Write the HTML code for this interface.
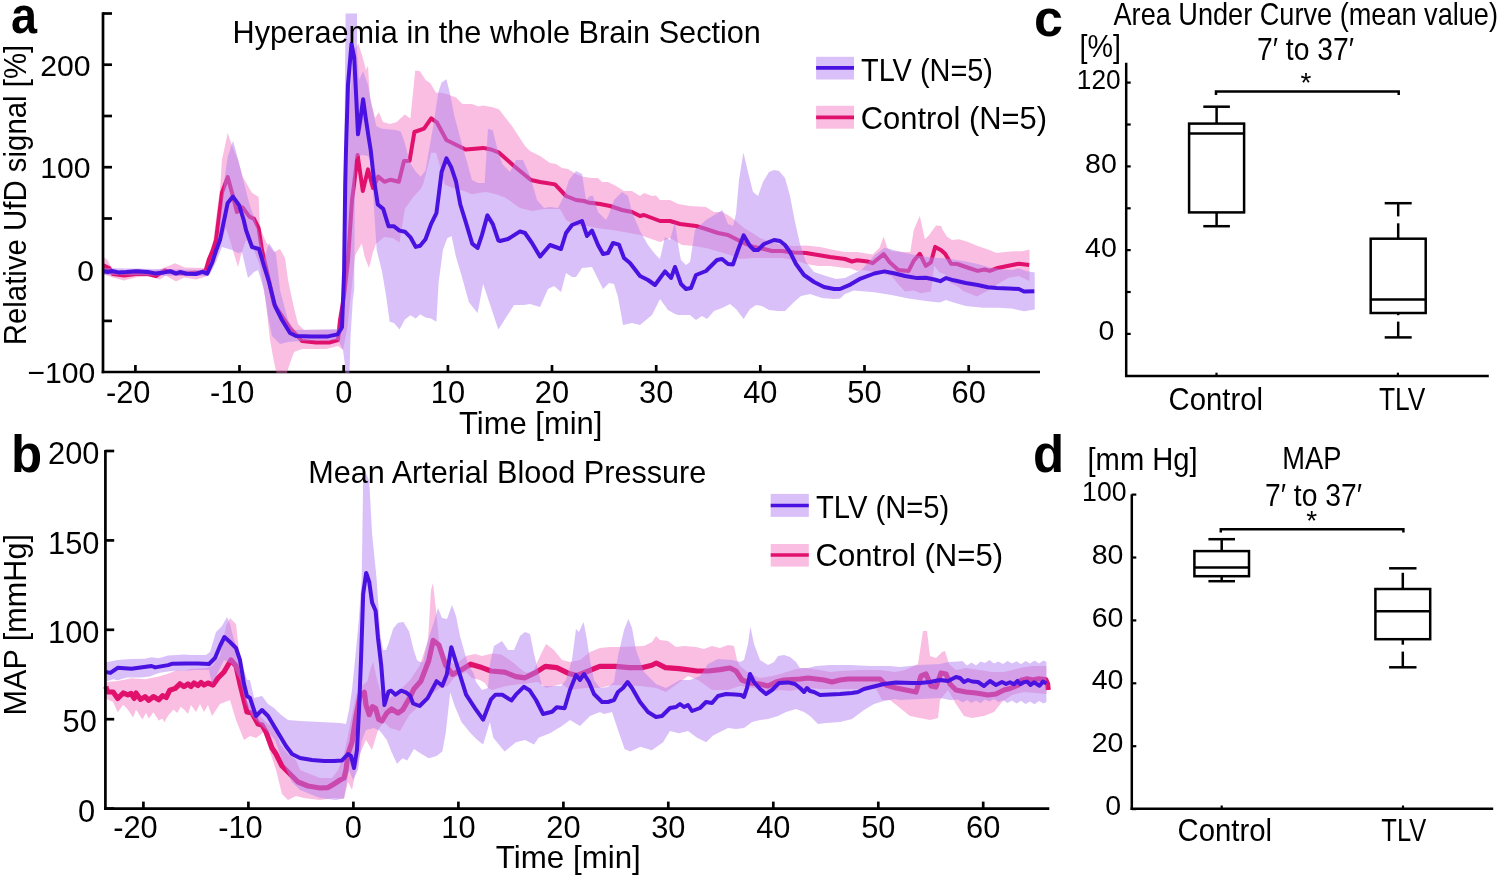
<!DOCTYPE html>
<html><head><meta charset="utf-8"><title>Figure</title>
<style>
html,body{margin:0;padding:0;background:#fff;}
svg{display:block;}
text{font-family:"Liberation Sans",sans-serif;fill:#000;}
</style></head><body>
<svg width="1501" height="875" viewBox="0 0 1501 875">
<rect width="1501" height="875" fill="#fff"/>
<line x1="103.0" y1="13.5" x2="112.0" y2="13.5" stroke="#000" stroke-width="2.7" />
<line x1="103.0" y1="64.7" x2="112.0" y2="64.7" stroke="#000" stroke-width="2.7" />
<line x1="103.0" y1="116.0" x2="112.0" y2="116.0" stroke="#000" stroke-width="2.7" />
<line x1="103.0" y1="167.2" x2="112.0" y2="167.2" stroke="#000" stroke-width="2.7" />
<line x1="103.0" y1="218.5" x2="112.0" y2="218.5" stroke="#000" stroke-width="2.7" />
<line x1="103.0" y1="269.7" x2="112.0" y2="269.7" stroke="#000" stroke-width="2.7" />
<line x1="103.0" y1="320.9" x2="112.0" y2="320.9" stroke="#000" stroke-width="2.7" />
<line x1="135.4" y1="372.0" x2="135.4" y2="365.0" stroke="#000" stroke-width="2.7" />
<line x1="239.5" y1="372.0" x2="239.5" y2="365.0" stroke="#000" stroke-width="2.7" />
<line x1="343.7" y1="372.0" x2="343.7" y2="365.0" stroke="#000" stroke-width="2.7" />
<line x1="447.9" y1="372.0" x2="447.9" y2="365.0" stroke="#000" stroke-width="2.7" />
<line x1="552.0" y1="372.0" x2="552.0" y2="365.0" stroke="#000" stroke-width="2.7" />
<line x1="656.2" y1="372.0" x2="656.2" y2="365.0" stroke="#000" stroke-width="2.7" />
<line x1="760.3" y1="372.0" x2="760.3" y2="365.0" stroke="#000" stroke-width="2.7" />
<line x1="864.5" y1="372.0" x2="864.5" y2="365.0" stroke="#000" stroke-width="2.7" />
<line x1="968.7" y1="372.0" x2="968.7" y2="365.0" stroke="#000" stroke-width="2.7" />
<line x1="101.7" y1="372.0" x2="1040.0" y2="372.0" stroke="#000" stroke-width="2.7" />
<polygon points="103.2,256.4 108.0,260.4 112.0,269.2 124.0,270.8 139.2,268.4 148.0,271.2 159.2,269.6 175.2,263.2 184.8,267.6 204.0,268.0 207.0,262.0 213.4,240.0 220.3,185.7 221.9,160.0 224.3,149.1 227.7,132.9 230.0,140.0 238.0,160.6 242.6,176.6 251.7,192.6 258.6,197.1 260.0,228.0 266.0,242.0 274.0,252.0 280.0,249.0 285.0,258.0 288.0,280.0 294.0,308.0 298.0,324.0 304.0,330.0 336.0,330.0 340.0,326.0 343.0,300.0 346.0,200.0 350.0,100.0 354.0,50.0 358.3,43.7 362.0,55.0 366.0,70.0 368.0,65.7 370.0,98.6 373.0,110.0 375.0,118.0 378.9,112.3 383.0,121.9 389.9,124.0 396.7,121.9 404.8,114.4 410.4,118.4 415.2,70.4 420.0,71.2 425.6,80.0 430.4,83.2 436.0,92.8 441.6,92.8 448.0,94.4 456.0,97.6 462.4,104.0 472.0,104.0 478.3,106.4 483.1,105.6 492.7,107.2 499.1,109.6 512.0,126.0 525.0,146.0 530.0,151.0 540.0,156.0 550.0,163.0 556.0,164.0 562.0,168.0 568.0,169.0 576.0,174.0 584.0,177.0 592.0,178.0 598.0,178.0 602.0,182.0 608.0,182.0 616.0,186.0 624.0,191.0 632.0,191.0 640.0,196.0 644.0,193.0 652.0,196.0 656.0,195.6 660.0,200.0 670.0,200.0 678.0,204.0 690.0,206.0 706.0,207.0 714.0,212.0 722.0,212.0 728.0,215.0 736.0,221.0 744.0,228.0 754.0,234.0 760.0,238.0 770.0,242.0 782.0,245.0 794.0,246.0 806.0,245.6 820.0,247.0 834.0,250.0 845.0,252.0 857.0,252.0 872.6,254.6 879.5,247.8 883.7,236.6 887.2,247.8 891.5,251.2 905.0,252.0 910.3,252.0 913.8,229.7 919.8,216.0 924.9,239.2 929.2,234.9 936.0,225.5 941.2,226.0 942.6,229.7 946.9,236.6 952.0,240.0 958.9,239.2 967.4,241.7 977.7,246.0 988.0,249.5 996.6,252.9 1005.2,252.0 1013.8,251.2 1022.3,251.2 1029.5,249.5 1029.5,281.2 1018.9,276.0 1008.6,277.8 998.3,283.8 989.7,289.8 982.9,293.2 976.9,296.6 970.9,294.0 964.0,291.5 957.2,286.3 950.3,283.0 945.0,274.3 939.5,272.6 934.3,265.8 930.9,291.5 920.6,293.2 913.8,290.6 905.0,291.5 898.3,284.6 891.5,276.0 875.0,272.0 862.3,270.0 857.0,271.0 850.3,268.3 845.0,268.0 830.0,266.0 818.0,266.0 806.0,264.0 794.0,260.0 782.0,258.0 770.0,258.0 754.0,258.0 740.0,259.0 730.0,255.0 720.0,252.0 706.0,248.0 694.0,246.0 682.0,245.0 670.0,238.0 660.0,242.0 640.0,235.0 624.0,232.0 612.0,230.0 600.0,228.5 586.0,226.0 576.0,226.0 566.0,220.0 560.0,209.0 544.0,209.0 532.0,211.0 520.0,208.0 505.0,197.5 496.0,194.3 486.3,191.9 480.0,192.7 472.0,194.3 464.0,191.0 452.8,188.0 444.8,184.7 441.6,172.0 436.0,152.7 431.2,152.7 424.0,181.5 421.2,188.3 412.5,198.0 404.9,208.9 399.5,242.5 393.0,238.2 384.3,237.1 376.0,244.0 373.0,252.0 369.0,268.0 365.0,258.0 361.8,243.5 358.0,250.0 355.0,256.0 352.0,285.0 347.0,330.0 343.0,350.0 338.0,346.0 326.0,349.0 302.0,349.0 294.0,352.0 289.0,366.0 287.0,373.0 276.5,373.0 274.0,362.0 270.0,340.0 266.0,304.0 260.0,266.0 252.0,245.0 246.0,240.0 241.0,255.0 238.0,267.0 234.0,254.0 230.0,240.0 226.0,228.0 220.0,245.0 214.0,262.0 206.4,276.4 196.0,279.6 184.0,277.6 176.0,281.6 165.6,275.6 160.0,279.6 148.0,276.4 136.0,277.2 124.0,280.4 112.0,277.2 103.2,274.0" fill="rgb(242,111,188)" fill-opacity="0.45"/>
<polyline points="103.2,265.2 109.6,268.4 112.8,274.0 124.0,275.6 136.0,274.0 148.0,274.0 156.0,276.0 164.8,270.4 176.0,273.2 188.0,273.2 200.0,272.4 205.6,270.8 208.8,259.6 212.8,250.0 216.0,240.0 222.0,192.6 227.7,177.1 232.3,193.7 236.9,212.0 242.6,207.4 249.4,216.6 254.0,218.9 258.6,228.0 262.0,250.0 268.0,276.0 274.0,304.0 282.0,316.0 290.0,328.0 302.0,341.0 316.0,342.4 330.0,342.4 338.0,340.0 340.0,320.0 344.0,296.0 348.0,260.0 352.0,200.0 354.0,185.0 357.6,155.0 362.8,191.0 368.0,169.4 373.0,188.0 378.2,176.6 384.4,181.8 390.6,179.7 398.8,181.8 404.0,161.0 409.6,160.7 414.4,132.0 424.0,128.7 431.2,118.4 436.8,122.3 446.4,140.0 456.0,144.7 465.5,149.5 475.1,148.7 483.1,147.9 491.1,149.5 499.1,152.7 514.0,166.0 531.0,180.0 540.0,182.0 555.0,184.4 566.0,196.0 576.0,200.0 584.0,201.0 588.0,202.4 600.0,204.0 610.0,206.0 622.0,210.0 632.0,212.0 640.0,216.0 644.0,215.0 652.0,218.0 660.0,221.0 670.0,221.0 680.0,224.0 696.0,226.0 706.0,229.0 718.0,233.0 728.0,235.0 736.0,239.0 746.0,244.0 754.0,247.0 764.0,249.0 772.0,251.0 782.0,251.0 794.0,252.4 806.0,253.0 818.0,255.0 830.0,257.0 845.0,259.0 852.0,261.5 857.0,260.3 867.4,261.5 872.6,263.2 883.7,254.1 889.7,262.3 898.3,270.0 908.6,270.9 913.8,260.6 919.8,253.8 925.8,265.8 930.9,262.3 935.2,246.9 941.2,250.3 945.1,253.8 951.1,263.7 957.2,264.0 967.4,267.5 977.7,270.9 984.6,269.5 989.7,270.9 996.6,268.3 1008.6,265.8 1018.9,263.7 1029.2,264.9" fill="none" stroke="#e0106c" stroke-width="4.0" stroke-linejoin="round" />
<polygon points="103.2,268.0 207.0,270.0 212.0,258.0 218.0,240.0 224.3,180.0 227.7,157.0 233.1,140.8 239.1,162.9 242.6,177.7 249.4,204.0 255.1,220.0 258.6,231.4 264.0,260.0 269.0,243.0 276.0,254.0 280.0,290.0 288.0,320.0 294.0,330.0 338.0,329.0 341.0,325.0 343.0,300.0 345.6,13.6 357.0,13.6 357.0,50.0 359.0,80.0 363.1,71.2 368.0,84.9 372.0,106.8 376.2,126.0 381.6,128.8 395.4,130.1 400.8,131.5 404.8,143.0 409.6,162.3 416.0,172.0 420.8,176.7 425.6,170.3 428.0,156.0 433.6,124.0 438.4,92.0 441.6,82.4 446.4,79.2 449.6,92.0 454.4,116.0 460.8,140.0 467.1,162.3 472.0,180.0 478.0,183.0 484.7,183.1 488.0,128.7 492.7,130.3 497.5,149.5 502.3,163.9 510.0,172.0 516.0,160.0 523.0,160.0 530.0,176.0 537.0,200.0 544.0,208.0 550.0,207.0 558.0,208.0 564.0,196.0 569.0,180.0 576.0,171.0 582.0,174.0 586.0,200.0 590.0,196.0 593.0,196.0 598.0,212.0 606.0,220.0 609.0,214.0 614.0,200.0 622.0,192.0 628.0,196.0 632.0,212.0 640.0,231.0 648.0,245.0 655.0,254.0 660.0,259.0 665.0,237.0 670.0,240.0 675.0,222.0 679.0,250.0 681.0,260.0 686.0,265.0 690.0,262.0 695.0,230.0 706.0,220.0 716.0,214.0 722.4,210.0 728.0,224.0 733.0,226.0 736.0,214.0 739.0,180.0 743.4,152.4 748.0,172.0 753.0,192.0 758.0,196.0 763.0,182.0 769.0,172.0 774.0,170.0 779.0,171.0 785.0,178.0 790.0,196.0 795.0,222.0 800.0,244.0 806.0,262.0 814.0,272.0 826.0,276.0 836.0,279.0 845.0,278.0 853.0,274.0 862.3,269.2 874.3,255.5 884.6,247.8 891.5,249.5 905.0,252.9 917.2,255.5 929.2,257.2 940.0,258.0 950.3,258.9 965.7,261.5 977.7,264.0 989.7,267.5 1001.8,269.2 1012.0,270.0 1018.9,268.3 1025.8,270.9 1034.7,272.6 1034.7,309.5 1024.0,311.2 1012.0,308.6 998.3,307.8 982.9,307.8 965.7,306.0 952.0,302.1 946.0,300.0 939.5,302.6 925.8,301.0 908.6,298.4 891.5,295.0 874.3,292.3 853.7,290.6 845.0,294.0 840.0,298.4 834.0,299.0 822.0,298.0 810.0,294.0 801.0,296.0 794.0,302.0 785.0,311.0 778.0,311.0 769.0,310.0 762.0,306.0 756.0,305.0 750.0,309.0 743.6,319.0 736.0,309.0 730.0,304.0 722.0,308.0 714.0,311.0 707.0,319.0 702.0,316.0 696.0,320.0 690.0,315.0 678.0,315.0 675.0,314.0 668.0,310.0 660.0,299.0 652.0,315.0 640.0,325.0 632.0,323.0 623.0,325.0 618.0,297.0 614.0,284.0 609.0,283.0 603.0,289.0 592.0,267.0 582.0,268.0 576.0,277.0 572.0,277.0 566.0,273.0 561.0,292.0 554.0,286.0 548.0,289.0 540.0,307.0 530.0,304.0 524.0,305.0 514.0,305.0 500.0,327.0 498.3,329.4 490.7,306.6 483.1,283.8 477.6,313.1 468.9,302.2 462.4,278.4 455.9,256.6 451.6,236.0 447.2,238.2 442.9,250.1 438.6,282.7 436.4,321.8 431.0,318.5 425.5,317.4 420.1,314.2 415.8,318.5 410.3,315.3 404.9,319.6 399.5,329.4 394.0,322.9 389.7,321.8 386.4,297.9 382.1,271.8 376.7,250.1 373.5,200.0 372.0,162.0 368.0,156.0 363.0,155.0 358.0,156.0 355.0,160.0 354.2,290.0 352.8,300.0 350.5,337.0 349.5,373.0 345.5,373.0 344.6,362.0 343.0,350.0 338.0,340.0 300.0,341.0 288.0,342.0 280.0,344.0 272.0,336.0 268.0,316.0 264.0,290.0 258.0,270.0 254.0,272.0 248.0,278.0 242.0,252.0 238.0,253.0 232.0,250.0 222.0,247.0 216.0,262.0 210.0,274.0 207.0,276.0 103.2,275.0" fill="rgb(179,129,241)" fill-opacity="0.5"/>
<polyline points="103.2,271.2 108.0,272.0 112.0,271.0 118.4,272.4 126.4,272.0 136.0,271.2 148.0,272.0 155.2,273.4 164.0,272.4 170.4,271.2 176.0,273.6 180.0,272.0 186.4,273.8 196.0,274.0 202.4,271.8 207.2,273.6 212.0,263.0 216.3,250.0 220.0,240.0 227.7,202.9 232.9,196.6 239.1,205.1 243.7,220.0 246.0,230.0 252.0,247.0 259.0,249.0 264.0,266.0 269.0,282.0 275.0,306.0 282.0,320.0 290.0,333.0 296.0,336.0 312.0,336.6 328.0,336.4 337.6,334.4 342.0,327.2 344.1,271.8 345.2,185.0 346.0,150.0 348.0,84.9 351.5,43.7 354.2,57.4 356.3,98.6 358.0,134.3 360.4,119.2 363.1,99.3 365.9,119.2 368.6,137.0 370.7,150.0 374.0,180.0 377.8,204.5 383.2,208.9 388.6,226.3 394.0,226.3 399.5,230.6 404.9,231.7 410.3,237.1 415.8,246.9 420.1,245.8 425.5,239.3 431.0,224.1 436.4,213.2 438.6,195.9 441.6,172.0 446.4,158.3 451.2,167.1 456.0,181.5 460.3,204.5 465.7,221.9 472.2,243.6 477.6,248.0 482.0,234.9 487.4,215.4 492.8,224.1 498.3,240.4 500.0,241.0 508.0,239.0 520.0,231.4 525.0,233.0 532.0,243.0 540.0,256.6 550.0,245.0 561.0,249.0 566.0,233.0 572.0,225.0 582.0,221.0 587.0,236.0 592.0,230.6 598.0,245.0 603.0,254.0 608.0,253.0 613.0,243.0 619.0,244.6 624.0,258.0 630.0,263.0 640.0,276.0 648.0,280.0 655.0,285.0 665.0,271.4 671.0,278.0 675.0,267.0 681.0,284.0 686.0,289.0 691.0,288.0 696.0,275.0 706.0,271.0 717.0,260.0 722.0,259.0 728.0,264.0 733.0,264.4 738.0,250.0 743.6,235.4 750.0,246.0 754.0,250.0 758.0,250.0 764.0,244.0 774.0,240.0 780.0,241.0 785.0,245.0 790.0,252.0 796.0,264.0 804.0,275.0 814.0,282.0 824.0,287.0 834.0,289.0 840.0,289.0 850.3,284.6 860.6,278.6 874.3,273.5 884.6,271.4 894.9,273.5 905.0,276.0 917.2,278.1 925.8,277.8 934.3,279.5 940.3,281.2 946.0,278.1 953.7,280.3 965.7,283.0 977.7,285.0 988.0,287.2 996.6,288.0 1008.6,288.4 1018.9,289.0 1024.0,291.5 1034.3,291.2" fill="none" stroke="#4a12e0" stroke-width="4.0" stroke-linejoin="round" />
<line x1="103.0" y1="12.3" x2="103.0" y2="373.3" stroke="#000" stroke-width="2.7" />
<text x="90.6" y="75.9" font-size="30.2" text-anchor="end">200</text>
<text x="90.6" y="178.4" font-size="30.2" text-anchor="end">100</text>
<text x="94.1" y="280.9" font-size="30.2" text-anchor="end">0</text>
<text x="95.4" y="383.4" font-size="30.2" text-anchor="end">&#8722;100</text>
<text x="150.4" y="402.6" font-size="30.8" text-anchor="end">-20</text>
<text x="254.5" y="402.6" font-size="30.8" text-anchor="end">-10</text>
<text x="343.7" y="402.6" font-size="30.8" text-anchor="middle">0</text>
<text x="447.9" y="402.6" font-size="30.8" text-anchor="middle">10</text>
<text x="552.0" y="402.6" font-size="30.8" text-anchor="middle">20</text>
<text x="656.2" y="402.6" font-size="30.8" text-anchor="middle">30</text>
<text x="760.3" y="402.6" font-size="30.8" text-anchor="middle">40</text>
<text x="864.5" y="402.6" font-size="30.8" text-anchor="middle">50</text>
<text x="968.7" y="402.6" font-size="30.8" text-anchor="middle">60</text>
<text x="459.0" y="434.0" font-size="30.5" textLength="143.4" lengthAdjust="spacingAndGlyphs">Time [min]</text>
<text x="25.8" y="345.2" font-size="31.5" textLength="300.4" lengthAdjust="spacingAndGlyphs" transform="rotate(-90 25.8 345.2)">Relative UfD signal [%]</text>
<text x="11.0" y="32.6" font-size="52" font-weight="bold" textLength="26.0" lengthAdjust="spacingAndGlyphs">a</text>
<text x="232.6" y="43.0" font-size="30.5" textLength="528.3" lengthAdjust="spacingAndGlyphs">Hyperaemia in the whole Brain Section</text>
<rect x="816.1" y="56.8" width="37.9" height="22.7" fill="rgb(179,129,241)" fill-opacity="0.5"/>
<line x1="816.1" y1="67.9" x2="854.0" y2="67.9" stroke="#4a12e0" stroke-width="3.6" />
<text x="861.0" y="80.6" font-size="31.2" textLength="132.0" lengthAdjust="spacingAndGlyphs">TLV (N=5)</text>
<rect x="816.1" y="105.8" width="37.9" height="22.9" fill="rgb(242,111,188)" fill-opacity="0.45"/>
<line x1="816.1" y1="117.4" x2="854.0" y2="117.4" stroke="#e0106c" stroke-width="3.6" />
<text x="860.8" y="128.5" font-size="31.2" textLength="186.2" lengthAdjust="spacingAndGlyphs">Control (N=5)</text>
<line x1="104.1" y1="808.6" x2="1049.3" y2="808.6" stroke="#000" stroke-width="2.7" />
<line x1="105.4" y1="451.0" x2="114.2" y2="451.0" stroke="#000" stroke-width="2.7" />
<line x1="105.4" y1="540.4" x2="114.2" y2="540.4" stroke="#000" stroke-width="2.7" />
<line x1="105.4" y1="629.8" x2="114.2" y2="629.8" stroke="#000" stroke-width="2.7" />
<line x1="105.4" y1="719.2" x2="114.2" y2="719.2" stroke="#000" stroke-width="2.7" />
<line x1="105.4" y1="808.6" x2="114.2" y2="808.6" stroke="#000" stroke-width="2.7" />
<line x1="143.4" y1="808.6" x2="143.4" y2="801.6" stroke="#000" stroke-width="2.7" />
<line x1="248.4" y1="808.6" x2="248.4" y2="801.6" stroke="#000" stroke-width="2.7" />
<line x1="353.4" y1="808.6" x2="353.4" y2="801.6" stroke="#000" stroke-width="2.7" />
<line x1="458.4" y1="808.6" x2="458.4" y2="801.6" stroke="#000" stroke-width="2.7" />
<line x1="563.4" y1="808.6" x2="563.4" y2="801.6" stroke="#000" stroke-width="2.7" />
<line x1="668.3" y1="808.6" x2="668.3" y2="801.6" stroke="#000" stroke-width="2.7" />
<line x1="773.3" y1="808.6" x2="773.3" y2="801.6" stroke="#000" stroke-width="2.7" />
<line x1="878.3" y1="808.6" x2="878.3" y2="801.6" stroke="#000" stroke-width="2.7" />
<line x1="983.2" y1="808.6" x2="983.2" y2="801.6" stroke="#000" stroke-width="2.7" />
<polygon points="105.0,679.0 107.7,682.0 117.7,681.0 131.4,678.3 145.1,679.3 158.8,676.5 168.0,673.8 177.1,670.1 184.0,671.0 190.0,669.0 206.0,668.0 212.0,666.0 220.0,656.0 226.0,626.0 230.0,618.0 236.0,624.0 240.0,660.0 246.0,700.0 252.0,708.0 260.0,716.0 268.0,724.0 275.0,728.0 280.0,744.0 288.0,754.0 296.0,760.0 300.0,770.0 320.0,778.0 332.0,778.0 338.0,770.0 344.0,754.0 348.0,735.0 352.0,715.0 356.0,695.0 360.0,688.0 364.0,684.0 367.6,681.0 370.0,670.0 373.2,662.0 376.0,675.0 380.0,690.0 384.0,700.0 390.0,698.0 400.0,690.0 410.0,680.0 420.0,665.0 428.0,640.0 431.0,590.0 433.0,583.0 436.0,610.0 440.0,650.0 447.0,660.0 455.0,665.0 466.0,656.0 475.0,654.0 482.0,656.0 490.0,654.0 493.2,653.6 501.2,654.4 507.6,658.4 514.0,663.2 520.4,668.8 526.0,672.8 530.0,672.0 534.0,670.4 536.4,664.0 542.0,652.0 546.0,644.0 554.0,650.0 562.0,660.0 570.0,662.0 580.0,660.0 590.0,652.0 600.0,648.0 610.0,647.0 620.0,647.0 644.0,646.0 652.0,642.0 656.0,636.0 660.0,640.0 668.0,641.0 676.0,647.0 684.0,646.0 696.0,647.0 704.0,649.0 712.0,646.0 720.0,648.0 728.0,645.0 734.0,646.0 737.0,660.0 740.0,666.0 750.0,674.0 760.0,678.0 772.0,676.0 780.0,674.0 796.0,669.0 806.0,668.0 820.0,670.0 830.0,672.0 840.0,671.0 860.0,670.0 880.0,670.0 895.0,672.0 905.0,670.0 918.0,664.0 923.0,631.0 927.0,631.0 930.0,656.0 936.0,658.0 942.0,652.0 945.0,651.0 949.0,664.0 956.0,670.0 966.0,668.0 980.0,670.0 992.0,672.0 1004.0,672.0 1020.0,668.0 1032.0,666.0 1046.4,666.0 1046.4,694.0 1024.0,692.0 1012.0,695.0 1002.0,702.0 994.0,712.0 984.0,716.0 972.0,718.0 964.0,716.0 956.0,704.0 948.0,690.0 940.0,700.0 938.0,718.0 930.0,720.0 920.0,718.0 910.0,716.0 900.0,708.0 890.0,700.0 882.0,700.0 876.0,689.0 860.0,689.0 840.0,689.0 820.0,689.0 810.0,688.0 800.0,689.0 790.0,691.0 780.0,690.0 770.0,692.0 760.0,689.0 740.0,686.0 728.0,690.0 712.0,690.0 698.0,680.0 688.0,676.0 680.0,682.0 666.0,692.0 656.0,688.0 640.0,686.0 612.0,685.0 600.0,688.0 585.0,688.0 570.0,690.0 562.0,684.0 554.0,686.0 546.0,688.0 538.0,682.0 522.0,684.0 506.0,686.0 492.0,690.0 488.0,688.0 485.0,683.0 480.0,680.0 472.0,678.0 466.0,672.0 454.0,678.0 448.0,685.7 440.0,688.0 430.0,695.0 420.0,705.0 409.4,715.0 400.0,731.0 390.0,728.0 384.0,722.0 378.0,730.0 372.0,750.0 366.0,740.0 360.0,754.0 356.0,770.0 352.0,790.0 348.0,782.0 344.0,799.0 334.0,798.0 320.0,800.0 304.0,798.0 296.0,796.0 288.0,800.0 282.0,794.0 276.0,770.0 270.0,752.0 264.0,732.0 256.0,738.0 250.0,736.0 244.0,740.0 236.0,720.0 230.0,700.0 220.0,704.0 212.0,716.0 208.0,705.0 204.0,712.0 200.0,704.0 196.0,712.0 191.0,705.0 188.0,714.0 184.0,709.4 180.8,706.7 177.1,713.1 173.5,709.4 168.0,715.8 164.3,722.2 162.5,718.6 158.8,720.4 153.4,712.2 148.8,718.6 146.0,713.1 142.4,719.5 136.0,709.4 133.2,717.6 127.8,709.4 123.2,704.8 117.7,712.2 113.1,702.1 107.7,699.4 105.0,697.0" fill="rgb(242,111,188)" fill-opacity="0.45"/>
<polyline points="105.8,686.6 107.7,692.0 113.1,692.0 117.7,698.4 123.2,693.0 127.8,694.8 131.0,693.5 134.2,698.4 136.0,693.0 140.6,699.4 145.1,696.6 148.8,700.3 153.4,696.6 158.8,699.8 162.5,695.7 166.2,697.5 169.8,690.2 175.3,688.4 179.9,683.8 184.0,686.6 188.0,684.0 191.0,686.5 194.0,683.0 198.0,685.5 201.0,682.5 204.0,685.0 208.0,683.0 213.0,685.0 218.0,678.0 224.0,672.0 231.0,660.0 236.0,666.0 240.0,684.0 244.0,700.0 247.0,712.0 252.0,713.0 258.0,724.0 262.0,725.0 266.0,732.0 272.0,748.0 276.0,754.0 282.0,766.0 290.0,774.0 298.0,782.0 308.0,786.0 320.0,788.0 328.0,787.6 334.0,784.0 340.0,780.0 344.0,778.0 346.0,770.0 348.0,754.0 352.0,742.0 356.0,716.0 360.0,696.0 364.4,692.3 366.0,705.0 369.2,714.7 372.4,706.7 375.6,708.3 378.8,719.5 382.0,721.0 386.8,713.0 391.6,709.0 398.0,713.0 402.7,709.9 409.1,698.7 413.9,689.0 420.8,681.2 428.7,660.8 433.2,640.4 438.9,645.0 445.7,665.3 452.5,674.4 461.5,669.8 470.6,664.2 481.9,667.6 491.0,671.0 504.6,672.1 515.9,676.6 525.0,677.8 536.3,672.1 545.3,666.4 556.7,667.6 568.0,673.2 577.1,675.5 588.4,671.0 599.7,666.4 615.6,666.4 629.2,667.6 642.7,667.6 651.8,665.3 656.3,663.0 665.4,667.6 679.0,668.7 697.1,671.0 708.4,671.0 720.0,669.6 730.0,668.0 736.0,671.0 742.0,680.0 750.0,683.0 760.0,684.0 768.0,686.0 776.0,682.0 784.0,680.0 800.0,679.0 808.0,678.0 816.0,679.0 824.0,680.0 832.0,682.0 840.0,680.0 848.0,679.0 860.0,679.0 880.0,679.0 886.0,685.0 896.0,688.0 906.0,690.0 916.0,692.0 921.0,676.0 926.0,674.0 931.0,686.0 936.0,687.0 941.0,673.0 946.0,674.0 950.0,684.0 956.0,690.0 966.0,692.0 976.0,693.0 988.0,695.0 996.0,694.0 1004.0,690.0 1010.0,688.4 1018.2,685.0 1021.0,680.2 1027.1,678.8 1033.0,680.0 1038.8,678.8 1045.7,679.5 1047.6,684.0 1048.2,690.0" fill="none" stroke="#e0106c" stroke-width="5.2" stroke-linejoin="round" />
<polygon points="105.0,662.0 107.7,661.9 117.7,660.0 131.4,659.1 145.1,658.7 151.5,657.3 158.8,658.2 168.0,655.5 177.1,655.0 184.0,654.6 190.0,655.0 206.0,655.0 210.0,652.0 216.0,632.0 222.0,626.0 227.0,617.0 230.0,624.0 234.0,640.0 238.0,650.0 244.0,670.0 247.0,680.0 250.0,680.0 254.0,698.0 262.0,696.0 268.0,704.0 274.0,708.0 280.0,714.0 288.0,720.0 300.0,721.0 320.0,722.0 340.0,723.0 346.0,724.0 349.0,710.0 352.0,690.0 356.0,650.0 358.8,620.0 361.7,578.8 363.2,477.8 365.0,471.0 369.2,480.8 372.1,534.3 376.6,578.8 378.0,600.0 380.4,635.0 383.0,650.0 386.0,650.0 388.4,644.0 393.2,628.4 398.0,622.8 403.5,622.0 409.1,631.6 413.9,650.7 417.1,660.3 420.0,662.0 423.0,661.9 428.0,640.0 434.0,622.0 438.0,608.0 442.0,618.0 447.0,619.0 452.0,605.0 456.0,616.0 460.0,636.0 465.0,654.0 468.0,664.0 474.0,674.0 476.0,682.0 482.0,690.0 488.0,688.0 490.0,664.0 494.0,646.0 502.0,641.0 508.0,650.0 514.0,650.0 520.0,636.0 525.0,632.0 530.0,634.0 534.0,654.0 538.0,670.0 542.0,686.0 552.0,686.0 561.0,686.0 566.0,680.0 572.0,660.0 576.0,629.0 579.0,632.0 583.6,622.0 587.0,640.0 590.0,660.0 594.0,680.0 600.0,688.0 608.0,687.0 614.0,682.0 618.0,656.0 624.0,630.0 628.4,619.0 632.0,628.0 636.0,650.0 644.0,672.0 656.0,684.0 666.0,688.0 680.0,680.0 690.0,680.0 700.0,676.0 708.0,664.0 718.0,659.0 732.0,660.0 740.0,662.0 744.0,660.0 748.0,644.0 750.4,626.4 754.0,644.0 760.0,660.0 768.0,665.0 774.0,662.0 778.0,656.0 784.0,655.0 790.0,657.0 796.0,662.0 800.0,668.0 808.0,668.0 816.0,666.0 830.0,665.0 850.0,665.0 870.0,666.0 890.0,666.0 900.0,667.0 920.0,665.0 940.0,664.0 948.0,662.0 958.0,661.4 962.5,660.9 967.0,665.4 971.5,662.6 976.0,665.4 980.5,661.5 985.0,663.1 989.5,659.9 994.0,663.4 998.5,661.4 1003.0,664.1 1007.5,660.9 1012.0,663.6 1016.5,661.2 1021.0,664.3 1025.5,661.1 1030.0,663.6 1034.5,660.6 1039.0,663.4 1043.5,660.6 1046.4,662.0 1046.4,702.0 1043.5,703.6 1039.0,701.1 1034.5,704.2 1030.0,701.4 1025.5,703.9 1021.0,700.7 1016.5,703.4 1012.0,700.6 1007.5,703.1 1003.0,699.9 998.5,702.2 994.0,699.0 989.5,701.5 985.0,699.6 980.5,703.3 976.0,700.4 971.5,703.0 967.0,700.0 962.5,702.5 958.0,699.4 950.0,700.0 940.0,698.0 900.0,700.0 895.0,699.0 884.0,701.0 874.0,704.0 864.0,710.0 852.0,719.0 840.0,722.0 826.0,723.0 818.0,724.0 810.0,716.0 804.0,712.0 796.0,709.0 786.0,712.0 778.0,716.0 768.0,719.0 760.0,720.0 752.0,722.0 744.0,728.0 736.0,729.0 728.0,728.0 720.0,732.0 713.0,735.5 706.2,742.3 697.1,737.8 688.0,731.0 679.0,733.2 669.9,731.0 663.1,742.3 651.8,750.2 640.5,746.8 630.3,751.4 624.6,749.1 618.0,730.0 612.0,712.0 604.0,714.0 600.0,712.0 590.0,716.0 580.0,726.0 570.0,720.0 561.2,726.5 549.9,733.2 538.6,737.8 534.0,744.6 525.0,740.0 515.9,742.3 504.6,751.4 493.3,737.8 489.9,721.9 486.5,733.2 483.1,744.6 477.4,740.0 470.6,733.2 461.5,721.9 454.7,706.0 450.2,692.5 445.7,733.2 442.3,751.4 436.6,755.9 428.7,758.2 420.8,753.6 414.0,749.0 407.2,760.4 402.6,758.2 397.0,763.8 391.3,751.4 386.8,740.0 380.0,731.0 374.0,728.0 366.0,730.0 362.0,740.0 358.0,770.0 353.0,780.0 349.0,770.0 344.0,798.0 336.0,800.0 320.0,798.0 300.0,790.0 292.0,782.0 282.0,760.0 275.0,740.0 268.0,732.0 260.0,724.0 252.0,716.0 246.0,704.0 240.0,680.0 232.0,664.0 224.0,660.0 218.0,672.0 212.0,684.0 209.0,670.0 194.0,670.0 184.0,671.0 177.1,670.6 168.0,671.5 158.8,672.9 149.7,676.5 140.6,677.4 126.9,677.4 117.7,680.2 113.1,679.3 107.7,681.0 105.0,681.0" fill="rgb(179,129,241)" fill-opacity="0.5"/>
<polyline points="105.8,672.0 110.4,672.9 117.7,667.8 131.4,668.7 140.6,667.4 151.5,666.0 155.2,667.4 168.0,665.1 172.6,663.7 186.0,663.6 198.0,663.6 209.0,664.0 215.0,658.0 220.0,646.0 224.4,637.0 230.0,642.0 236.0,648.0 240.0,660.0 244.0,684.0 247.0,696.0 250.0,698.0 256.0,716.0 262.0,710.0 268.0,716.0 274.0,726.0 280.0,736.0 286.0,746.0 292.0,754.0 300.0,758.0 312.0,760.0 324.0,761.0 334.0,761.0 342.0,760.4 348.0,754.0 351.0,756.0 354.0,768.0 357.0,750.0 359.0,710.0 361.0,660.0 363.2,593.6 366.2,572.9 369.2,581.8 372.1,602.6 375.6,610.8 378.0,638.0 381.2,665.0 384.4,705.0 388.5,691.7 391.0,690.7 395.5,694.7 401.1,690.7 405.9,692.3 410.0,695.5 413.1,703.5 419.6,706.0 427.6,698.1 436.6,681.2 442.3,685.7 446.8,674.4 451.3,647.2 457.0,665.3 466.1,694.7 475.1,708.3 483.1,719.7 491.0,699.3 495.5,694.7 502.3,694.7 511.4,700.4 515.9,694.7 523.8,686.8 529.5,690.2 536.0,700.0 543.1,714.0 552.1,711.7 556.7,707.2 564.6,708.3 570.0,690.0 576.0,675.0 580.0,680.0 584.0,674.0 589.0,682.0 594.0,694.0 602.0,702.0 608.0,702.0 614.0,700.0 618.0,692.0 623.0,688.0 627.6,682.0 632.0,688.0 640.0,702.0 648.0,712.0 656.0,717.0 662.0,716.0 670.0,708.0 676.0,707.0 680.0,704.0 684.0,707.0 688.0,705.0 692.0,711.0 700.0,708.0 706.0,702.0 712.0,703.0 718.0,696.0 726.0,694.0 735.0,694.4 741.0,695.0 744.0,697.0 747.0,688.0 750.0,674.0 754.0,682.0 760.0,689.0 766.0,694.0 772.0,690.0 779.0,683.0 788.0,682.4 795.0,684.0 800.0,688.0 804.0,692.0 807.0,688.0 810.0,691.0 814.0,692.0 820.0,695.0 830.0,694.4 840.0,694.0 852.0,693.0 858.0,692.0 864.0,689.0 876.0,686.0 884.0,684.0 896.0,682.4 912.0,683.0 920.0,683.0 930.0,682.0 940.0,680.0 948.0,681.0 956.0,677.0 960.0,678.0 964.0,682.0 968.0,680.0 972.0,681.5 978.0,682.0 984.0,686.0 990.0,681.0 996.0,685.0 1002.0,682.0 1006.0,684.0 1010.0,682.2 1014.0,684.3 1017.5,680.9 1020.3,684.3 1023.7,682.2 1027.1,681.6 1030.6,685.0 1034.0,682.2 1039.5,685.7 1042.9,681.6 1046.4,683.6" fill="none" stroke="#4a12e0" stroke-width="4.0" stroke-linejoin="round" />
<line x1="105.4" y1="450.0" x2="105.4" y2="809.9" stroke="#000" stroke-width="2.7" />
<text x="99.5" y="464.2" font-size="30.8" text-anchor="end">200</text>
<text x="99.5" y="553.6" font-size="30.8" text-anchor="end">150</text>
<text x="99.5" y="643.0" font-size="30.8" text-anchor="end">100</text>
<text x="96.8" y="732.4" font-size="30.8" text-anchor="end">50</text>
<text x="95.2" y="821.8" font-size="30.8" text-anchor="end">0</text>
<text x="157.7" y="837.6" font-size="30.8" text-anchor="end">-20</text>
<text x="262.7" y="837.6" font-size="30.8" text-anchor="end">-10</text>
<text x="353.4" y="837.6" font-size="30.8" text-anchor="middle">0</text>
<text x="458.4" y="837.6" font-size="30.8" text-anchor="middle">10</text>
<text x="563.4" y="837.6" font-size="30.8" text-anchor="middle">20</text>
<text x="668.3" y="837.6" font-size="30.8" text-anchor="middle">30</text>
<text x="773.3" y="837.6" font-size="30.8" text-anchor="middle">40</text>
<text x="878.3" y="837.6" font-size="30.8" text-anchor="middle">50</text>
<text x="983.2" y="837.6" font-size="30.8" text-anchor="middle">60</text>
<text x="495.8" y="867.9" font-size="30.5" textLength="145.0" lengthAdjust="spacingAndGlyphs">Time [min]</text>
<text x="25.5" y="715.5" font-size="31.4" textLength="181.5" lengthAdjust="spacingAndGlyphs" transform="rotate(-90 25.5 715.5)">MAP [mmHg]</text>
<text x="11.0" y="471.5" font-size="51" font-weight="bold">b</text>
<text x="308.3" y="483.4" font-size="30.5" textLength="398.0" lengthAdjust="spacingAndGlyphs">Mean Arterial Blood Pressure</text>
<rect x="770.7" y="493.9" width="38.1" height="23" fill="rgb(179,129,241)" fill-opacity="0.5"/>
<line x1="770.7" y1="505.5" x2="808.8" y2="505.5" stroke="#4a12e0" stroke-width="3.6" />
<text x="816.0" y="517.8" font-size="31.2" textLength="133.2" lengthAdjust="spacingAndGlyphs">TLV (N=5)</text>
<rect x="770.7" y="544" width="38.1" height="22.6" fill="rgb(242,111,188)" fill-opacity="0.45"/>
<line x1="770.7" y1="555.0" x2="808.8" y2="555.0" stroke="#e0106c" stroke-width="3.6" />
<text x="815.5" y="566.2" font-size="31.2" textLength="187.6" lengthAdjust="spacingAndGlyphs">Control (N=5)</text>
<line x1="1126.2" y1="62.8" x2="1126.2" y2="377.1" stroke="#000" stroke-width="2.5" />
<line x1="1125.0" y1="375.9" x2="1488.8" y2="375.9" stroke="#000" stroke-width="2.5" />
<line x1="1126.2" y1="82.6" x2="1130.7" y2="82.6" stroke="#000" stroke-width="2.2" />
<line x1="1126.2" y1="124.5" x2="1130.7" y2="124.5" stroke="#000" stroke-width="2.2" />
<line x1="1126.2" y1="166.4" x2="1130.7" y2="166.4" stroke="#000" stroke-width="2.2" />
<line x1="1126.2" y1="208.3" x2="1130.7" y2="208.3" stroke="#000" stroke-width="2.2" />
<line x1="1126.2" y1="250.1" x2="1130.7" y2="250.1" stroke="#000" stroke-width="2.2" />
<line x1="1126.2" y1="292.0" x2="1130.7" y2="292.0" stroke="#000" stroke-width="2.2" />
<line x1="1126.2" y1="333.9" x2="1130.7" y2="333.9" stroke="#000" stroke-width="2.2" />
<line x1="1216.5" y1="375.9" x2="1216.5" y2="372.7" stroke="#000" stroke-width="2.2" />
<line x1="1397.9" y1="375.9" x2="1397.9" y2="372.7" stroke="#000" stroke-width="2.2" />
<text x="1120.6" y="89.0" font-size="28.5" text-anchor="end" textLength="43.8" lengthAdjust="spacingAndGlyphs">120</text>
<text x="1116.8" y="172.8" font-size="28.5" text-anchor="end">80</text>
<text x="1116.8" y="256.5" font-size="28.5" text-anchor="end">40</text>
<text x="1114.4" y="340.3" font-size="28.5" text-anchor="end">0</text>
<text x="1034.0" y="36.0" font-size="52" font-weight="bold">c</text>
<text x="1113.5" y="24.5" font-size="30.5" textLength="384.5" lengthAdjust="spacingAndGlyphs">Area Under Curve (mean value)</text>
<text x="1257.0" y="59.6" font-size="30.5" textLength="97.0" lengthAdjust="spacingAndGlyphs">7&#8242; to 37&#8242;</text>
<text x="1079.6" y="57.0" font-size="30.5" textLength="41.4" lengthAdjust="spacingAndGlyphs">[%]</text>
<text x="1168.6" y="409.8" font-size="30.5" textLength="94.4" lengthAdjust="spacingAndGlyphs">Control</text>
<text x="1379.0" y="409.8" font-size="30.5" textLength="46.4" lengthAdjust="spacingAndGlyphs">TLV</text>
<polyline points="1216,95 1216,91.6 1398.7,91.6 1398.7,95" fill="none" stroke="#000" stroke-width="2.5"/>
<text x="1306.0" y="92.0" font-size="28" text-anchor="middle">*</text>
<rect x="1189.1" y="123.6" width="55.0" height="88.8" fill="none" stroke="#000" stroke-width="2.5"/>
<line x1="1189.1" y1="133.4" x2="1244.1" y2="133.4" stroke="#000" stroke-width="2.5" />
<line x1="1203.3" y1="106.7" x2="1229.9" y2="106.7" stroke="#000" stroke-width="2.5" />
<line x1="1203.3" y1="226.2" x2="1229.9" y2="226.2" stroke="#000" stroke-width="2.5" />
<line x1="1216.6" y1="106.7" x2="1216.6" y2="123.6" stroke="#000" stroke-width="2.5" />
<line x1="1216.6" y1="212.4" x2="1216.6" y2="226.2" stroke="#000" stroke-width="2.5" />
<rect x="1370.7" y="238.7" width="55.0" height="74.3" fill="none" stroke="#000" stroke-width="2.5"/>
<line x1="1370.7" y1="299.6" x2="1425.7" y2="299.6" stroke="#000" stroke-width="2.5" />
<line x1="1384.7" y1="203.2" x2="1411.7" y2="203.2" stroke="#000" stroke-width="2.5" />
<line x1="1384.7" y1="337.4" x2="1411.7" y2="337.4" stroke="#000" stroke-width="2.5" />
<line x1="1398.2" y1="203.2" x2="1398.2" y2="216.4" stroke="#000" stroke-width="2.5" />
<line x1="1398.2" y1="223.3" x2="1398.2" y2="238.7" stroke="#000" stroke-width="2.5" />
<line x1="1398.2" y1="313.0" x2="1398.2" y2="315.2" stroke="#000" stroke-width="2.5" />
<line x1="1398.2" y1="321.6" x2="1398.2" y2="337.4" stroke="#000" stroke-width="2.5" />
<line x1="1131.8" y1="494.3" x2="1131.8" y2="809.9" stroke="#000" stroke-width="2.5" />
<line x1="1130.6" y1="808.7" x2="1493.2" y2="808.7" stroke="#000" stroke-width="2.5" />
<line x1="1131.8" y1="494.6" x2="1136.3" y2="494.6" stroke="#000" stroke-width="2.2" />
<line x1="1131.8" y1="557.5" x2="1136.3" y2="557.5" stroke="#000" stroke-width="2.2" />
<line x1="1131.8" y1="620.4" x2="1136.3" y2="620.4" stroke="#000" stroke-width="2.2" />
<line x1="1131.8" y1="683.3" x2="1136.3" y2="683.3" stroke="#000" stroke-width="2.2" />
<line x1="1131.8" y1="746.2" x2="1136.3" y2="746.2" stroke="#000" stroke-width="2.2" />
<line x1="1131.8" y1="809.1" x2="1136.3" y2="809.1" stroke="#000" stroke-width="2.2" />
<line x1="1221.7" y1="808.7" x2="1221.7" y2="805.5" stroke="#000" stroke-width="2.2" />
<line x1="1403.0" y1="808.7" x2="1403.0" y2="805.5" stroke="#000" stroke-width="2.2" />
<text x="1126.6" y="500.7" font-size="28.5" text-anchor="end" textLength="44.5" lengthAdjust="spacingAndGlyphs">100</text>
<text x="1123.4" y="563.6" font-size="28.5" text-anchor="end">80</text>
<text x="1123.4" y="626.5" font-size="28.5" text-anchor="end">60</text>
<text x="1123.4" y="689.4" font-size="28.5" text-anchor="end">40</text>
<text x="1123.4" y="752.3" font-size="28.5" text-anchor="end">20</text>
<text x="1121.0" y="815.2" font-size="28.5" text-anchor="end">0</text>
<text x="1033.0" y="472.0" font-size="51" font-weight="bold">d</text>
<text x="1087.5" y="469.8" font-size="30.5" textLength="110.2" lengthAdjust="spacingAndGlyphs">[mm Hg]</text>
<text x="1282.3" y="469.4" font-size="30.5" textLength="59.1" lengthAdjust="spacingAndGlyphs">MAP</text>
<text x="1265.0" y="505.5" font-size="30.5" textLength="97.0" lengthAdjust="spacingAndGlyphs">7&#8242; to 37&#8242;</text>
<text x="1177.5" y="840.5" font-size="30.5" textLength="94.5" lengthAdjust="spacingAndGlyphs">Control</text>
<text x="1381.3" y="840.5" font-size="30.5" textLength="44.9" lengthAdjust="spacingAndGlyphs">TLV</text>
<polyline points="1220.8,532.5 1220.8,529.2 1403.4,529.2 1403.4,532.5" fill="none" stroke="#000" stroke-width="2.5"/>
<text x="1311.8" y="530.0" font-size="28" text-anchor="middle">*</text>
<rect x="1194.4" y="551.1" width="54.6" height="25.1" fill="none" stroke="#000" stroke-width="2.5"/>
<line x1="1194.4" y1="567.4" x2="1249.0" y2="567.4" stroke="#000" stroke-width="2.5" />
<line x1="1208.4" y1="539.2" x2="1235.0" y2="539.2" stroke="#000" stroke-width="2.5" />
<line x1="1208.4" y1="581.2" x2="1235.0" y2="581.2" stroke="#000" stroke-width="2.5" />
<line x1="1221.7" y1="539.2" x2="1221.7" y2="551.1" stroke="#000" stroke-width="2.5" />
<line x1="1221.7" y1="576.2" x2="1221.7" y2="581.2" stroke="#000" stroke-width="2.5" />
<rect x="1375.4" y="589.0" width="54.8" height="50.2" fill="none" stroke="#000" stroke-width="2.5"/>
<line x1="1375.4" y1="611.2" x2="1430.2" y2="611.2" stroke="#000" stroke-width="2.5" />
<line x1="1389.1" y1="568.3" x2="1416.5" y2="568.3" stroke="#000" stroke-width="2.5" />
<line x1="1389.1" y1="667.3" x2="1416.5" y2="667.3" stroke="#000" stroke-width="2.5" />
<line x1="1402.8" y1="572.8" x2="1402.8" y2="589.0" stroke="#000" stroke-width="2.5" />
<line x1="1402.8" y1="639.2" x2="1402.8" y2="644.7" stroke="#000" stroke-width="2.5" />
<line x1="1402.8" y1="651.6" x2="1402.8" y2="667.3" stroke="#000" stroke-width="2.5" />
</svg>
</body></html>
